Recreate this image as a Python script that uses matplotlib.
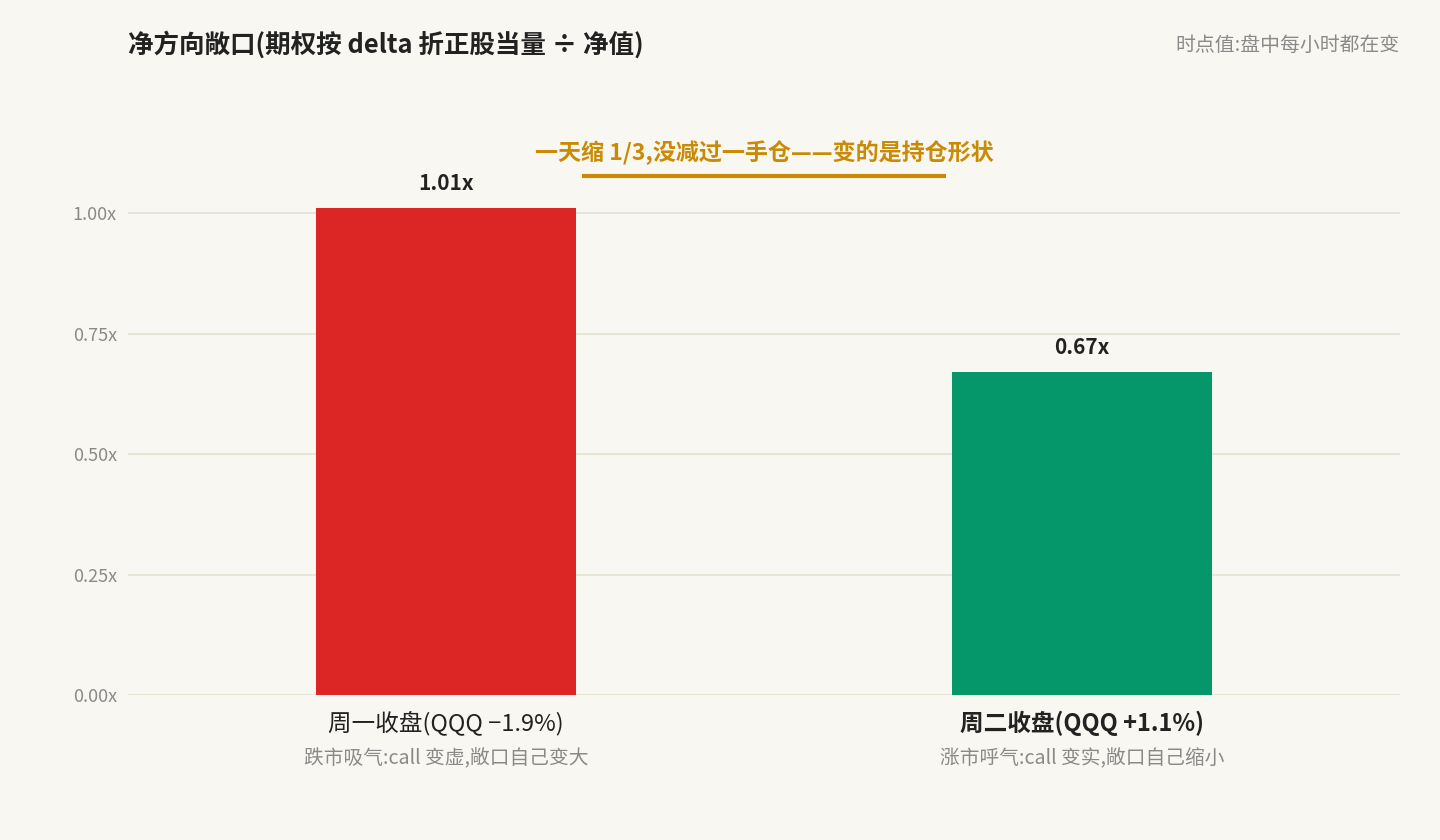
import matplotlib
matplotlib.use("Agg")
import matplotlib.pyplot as plt

plt.rcParams['font.family'] = ['Noto Sans CJK SC', 'DejaVu Sans']

categories = ["周一收盘(QQQ −1.9%)", "周二收盘(QQQ +1.1%)"]
subtitles = ["跌市吸气:call 变虚,敞口自己变大", "涨市呼气:call 变实,敞口自己缩小"]
values = [1.01, 0.67]
value_labels = ["1.01x", "0.67x"]
colors = ["#DC2626", "#059669"]
yticks = [0.0, 0.25, 0.5, 0.75, 1.0]

BG = "#F9F7F2"
GRID = "#E8E4D8"
GOLD = "#CA8A04"

fig = plt.figure(figsize=(14.4, 8.4), dpi=100, facecolor=BG)
ax = fig.add_axes([128/1440, 1-695/840, 1272/1440, 1.2*482/840])
ax.set_facecolor(BG)

x = list(range(len(values)))
ax.bar(x, values, width=0.409, color=colors, zorder=3)
for xi, v, lab in zip(x, values, value_labels):
    ax.text(xi, v + 0.03, lab, ha="center", va="bottom", fontsize=15,
            fontweight="bold", color="#222222")

ax.set_xlim(-0.5, 1.5)
ax.set_ylim(0, 1.2)
ax.set_yticks(yticks)
ax.set_yticklabels([f"{t:.2f}x" for t in yticks], fontsize=13, color="#8A8A8A")
ax.set_xticks(x)
ax.set_xticklabels([])
ax.tick_params(length=0, pad=8)
for s in ax.spines.values():
    s.set_visible(False)
ax.grid(axis="y", color=GRID, linewidth=1.5, zorder=0)

for i, (c, sub) in enumerate(zip(categories, subtitles)):
    ax.text(i, -0.032, c, ha="center", va="top", fontsize=17, color="#222222",
            fontweight="bold" if i == 1 else "normal")
    ax.text(i, -0.11, sub, ha="center", va="top", fontsize=14.2, color="#8A8A8A")

# bracket annotation
ax.plot([0.214, 0.786], [1.077, 1.077], color=GOLD, linewidth=3, solid_capstyle="butt")
ax.text(0.5, 1.1, "一天缩 1/3,没减过一手仓——变的是持仓形状", ha="center", va="bottom",
        fontsize=16.6, fontweight="bold", color=GOLD)

fig.text(128/1440, 1-45/840, "净方向敞口(期权按 delta 折正股当量 ÷ 净值)", ha="left",
         va="center", fontsize=18.4, fontweight="bold", color="#222222")
fig.text(1400/1440, 1-45/840, "时点值:盘中每小时都在变", ha="right", va="center",
         fontsize=14.3, color="#8A8A8A")

fig.savefig("out.png", dpi=100, facecolor=BG)
